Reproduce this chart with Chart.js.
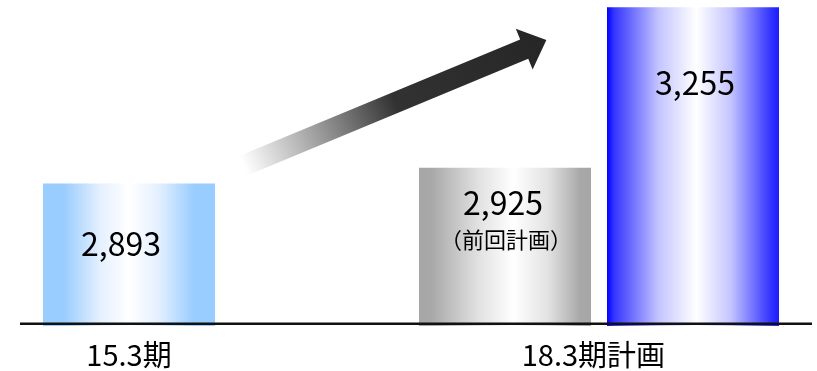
<!DOCTYPE html>
<html lang="ja">
<head>
<meta charset="utf-8">
<title>計画比較</title>
<script src="https://cdn.jsdelivr.net/npm/chart.js@4.4.1/dist/chart.umd.min.js"></script>
<style>
  html, body { margin: 0; padding: 0; background: #fff; }
  #wrap { width: 817px; height: 371px; }
</style>
</head>
<body>
<div id="wrap"><canvas id="planChart"></canvas></div>
<script>
// values
const periodLabels = ['15.3期', '18.3期計画'];
const periodSlots = [0, 2.47];
const barSlots = [0, 2, 3];
const barValues = [2893, 2925, 3255];
const barNotes = ['', '（前回計画）', ''];
// arrow between the periods, in data space (slot, value)
const arrowFrom = [0.61, 2930];
const arrowTo = [2.22, 3188];

const Y_MIN = 2600;
const Y_MAX = 3270;
const BAR_PCT = 0.915;
const FONT = '"Noto Sans CJK JP", "Noto Sans", sans-serif';

// horizontal gradient stops for each bar
const barStops = [
  [[0, '#99ccff'], [0.12, '#99ccff'], [0.33, '#e4f0ff'], [0.5, '#ffffff'], [0.67, '#e4f0ff'], [0.88, '#99ccff'], [1, '#99ccff']],
  [[0, '#a6a6a6'], [0.07, '#a8a8a8'], [0.35, '#e2e2e2'], [0.55, '#ffffff'], [0.75, '#e2e2e2'], [0.94, '#a8a8a8'], [1, '#a6a6a6']],
  [[0, '#0000ff'], [0.04, '#3434ff'], [0.3, '#c4c4ff'], [0.52, '#ffffff'], [0.72, '#c4c4ff'], [0.95, '#3434ff'], [1, '#1c1cff']]
];
// label nudges (dx, dy from bar top)
const labelOffsets = [[-8, 60], [-2, 35], [2, 76]];

function barGradient(context) {
  const chart = context.chart;
  const i = context.dataIndex;
  if (!chart.chartArea || i === undefined) return '#cccccc';
  const x = chart.scales.x;
  const half = (x.getPixelForValue(1) - x.getPixelForValue(0)) * BAR_PCT / 2;
  const cx = x.getPixelForValue(barSlots[i]);
  const g = chart.ctx.createLinearGradient(cx - half, 0, cx + half, 0);
  barStops[i].forEach(s => g.addColorStop(s[0], s[1]));
  return g;
}

const decorPlugin = {
  id: 'decor',
  beforeDatasetsDraw(chart) {
    // fading arrow
    const {ctx, scales: {x, y}} = chart;
    const x0 = x.getPixelForValue(arrowFrom[0]), y0 = y.getPixelForValue(arrowFrom[1]);
    const x1 = x.getPixelForValue(arrowTo[0]), y1 = y.getPixelForValue(arrowTo[1]);
    const len = Math.hypot(x1 - x0, y1 - y0);
    const ang = Math.atan2(y1 - y0, x1 - x0);
    const shaft = 10.5, head = 22, headLen = 24;
    ctx.save();
    ctx.translate(x0, y0);
    ctx.rotate(ang);
    const g = ctx.createLinearGradient(0, 0, len, 0);
    g.addColorStop(0, 'rgba(60,60,60,0)');
    g.addColorStop(0.5, 'rgba(50,50,50,1)');
    g.addColorStop(1, '#262626');
    ctx.fillStyle = g;
    ctx.beginPath();
    ctx.moveTo(0, -shaft);
    ctx.lineTo(len - headLen, -shaft);
    ctx.lineTo(len - headLen, -head);
    ctx.lineTo(len, 0);
    ctx.lineTo(len - headLen, head);
    ctx.lineTo(len - headLen, shaft);
    ctx.lineTo(0, shaft);
    ctx.closePath();
    ctx.fill();
    ctx.restore();
  },
  afterDatasetsDraw(chart) {
    const {ctx, chartArea, scales: {x, y}} = chart;
    ctx.save();

    // baseline
    ctx.strokeStyle = '#111';
    ctx.lineWidth = 2.5;
    ctx.beginPath();
    ctx.moveTo(chartArea.left, chartArea.bottom - 2.3);
    ctx.lineTo(chartArea.right, chartArea.bottom - 2.3);
    ctx.stroke();

    ctx.fillStyle = '#000';
    ctx.textAlign = 'center';
    ctx.textBaseline = 'middle';

    // values inside bars
    barValues.forEach((v, i) => {
      const px = x.getPixelForValue(barSlots[i]) + labelOffsets[i][0];
      const py = y.getPixelForValue(v) + labelOffsets[i][1];
      ctx.font = '32px ' + FONT;
      ctx.fillText(v.toLocaleString('en-US'), px, py);
      if (barNotes[i]) {
        ctx.font = '22px ' + FONT;
        ctx.fillText(barNotes[i], px + 3, py + 37);
      }
    });

    // period labels under the baseline
    ctx.font = '29px ' + FONT;
    periodLabels.forEach((t, k) => {
      ctx.fillText(t, x.getPixelForValue(periodSlots[k]), chartArea.bottom + 29);
    });
    ctx.restore();
  }
};

new Chart(document.getElementById('planChart'), {
  type: 'bar',
  data: {
    datasets: [{
      data: barSlots.map((s, i) => ({x: s, y: barValues[i]})),
      backgroundColor: barGradient,
      borderWidth: 0,
      barPercentage: BAR_PCT,
      categoryPercentage: 1
    }]
  },
  options: {
    responsive: true,
    maintainAspectRatio: false,
    animation: false,
    layout: {padding: {left: 20, right: 5, top: 0, bottom: 45}},
    plugins: {legend: {display: false}, tooltip: {enabled: false}},
    scales: {
      x: {
        type: 'linear',
        min: -0.58,
        max: 3.633,
        offset: false,
        display: false,
        afterBuildTicks: axis => { axis.ticks = [0, 1, 2, 3].map(v => ({value: v})); }
      },
      y: {min: Y_MIN, max: Y_MAX, display: false}
    }
  },
  plugins: [decorPlugin]
});
</script>
</body>
</html>
